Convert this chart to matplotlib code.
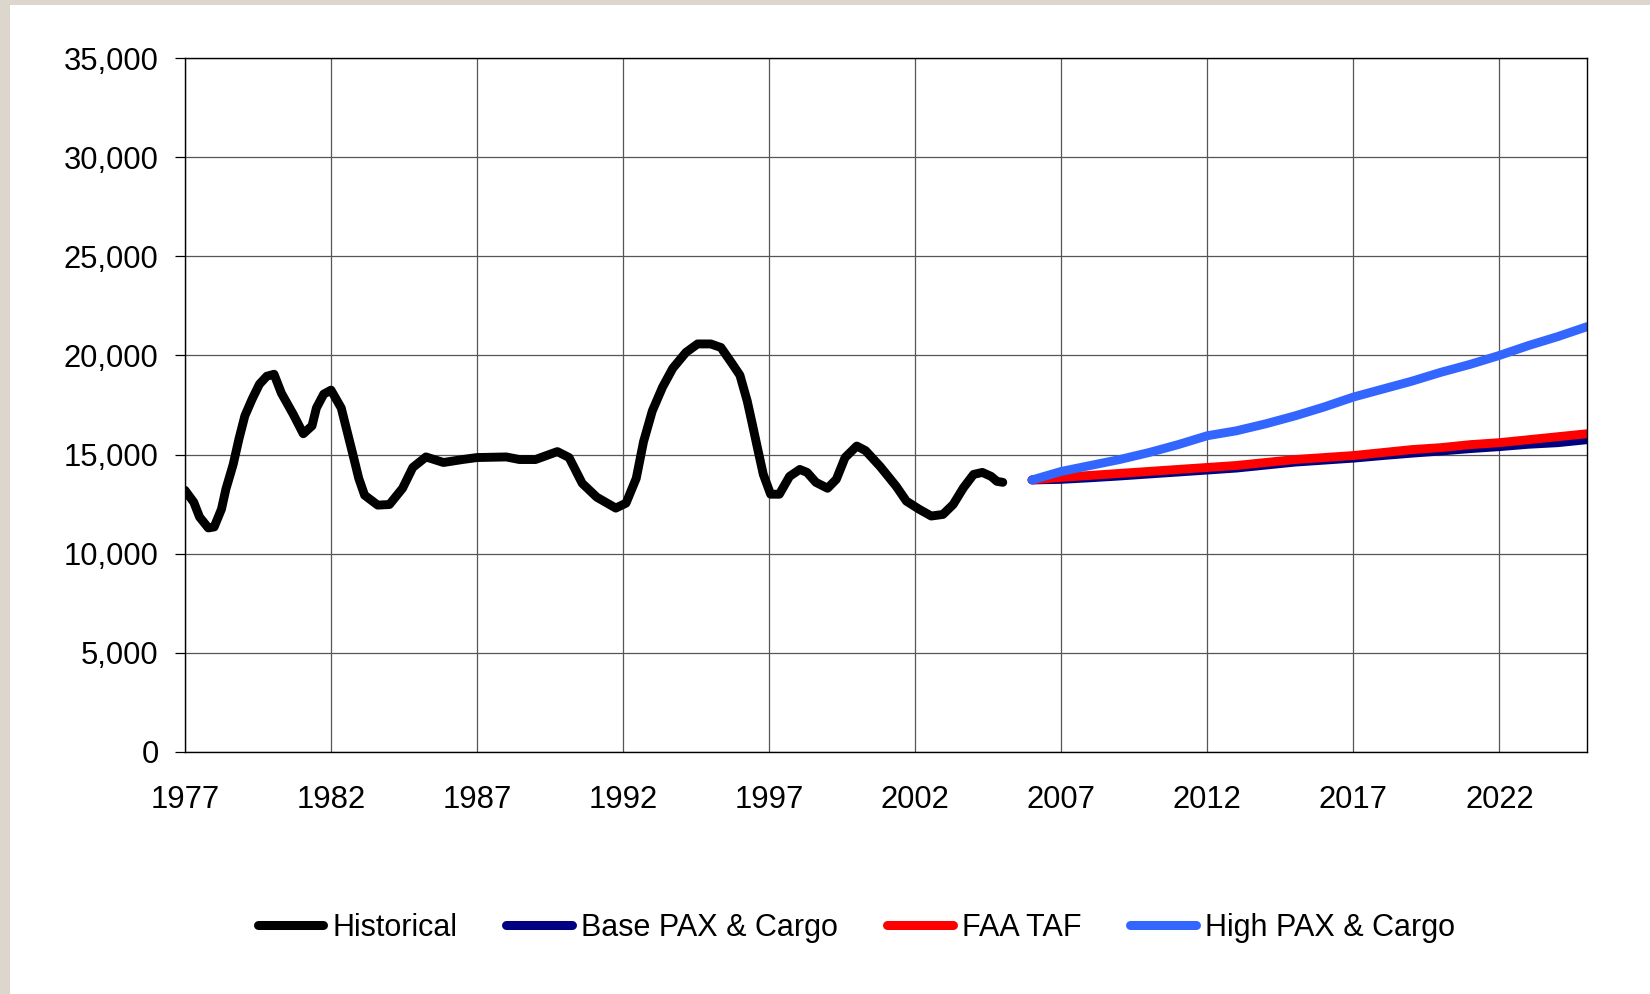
import numpy as np
import matplotlib.pyplot as plt
from matplotlib.patches import Rectangle

# historical series
hist_year = [1977.0, 1977.3, 1977.5, 1977.8, 1978.0, 1978.25, 1978.4, 1978.65, 1978.85,
             1979.05, 1979.3, 1979.55, 1979.8, 1980.05, 1980.3, 1980.7, 1981.05, 1981.35,
             1981.5, 1981.75, 1982.0, 1982.35, 1982.75, 1982.95, 1983.15, 1983.6, 1984.0,
             1984.45, 1984.8, 1985.25, 1985.85, 1986.5, 1987.0, 1988.0, 1988.45, 1989.0,
             1989.75, 1990.15, 1990.6, 1991.1, 1991.75, 1992.1, 1992.45, 1992.7, 1993.0,
             1993.35, 1993.7, 1994.15, 1994.55, 1995.0, 1995.35, 1995.75, 1996.0, 1996.25,
             1996.4, 1996.65, 1996.8, 1997.05, 1997.35, 1997.7, 1998.05, 1998.3, 1998.6,
             1999.0, 1999.3, 1999.6, 2000.0, 2000.3, 2000.8, 2001.35, 2001.7, 2002.15,
             2002.55, 2002.95, 2003.3, 2003.65, 2004.0, 2004.3, 2004.6, 2004.8, 2005.0]
hist_val = [13200, 12600, 11850, 11300, 11350, 12250, 13250, 14500, 15800,
            16950, 17800, 18550, 18950, 19050, 18100, 17050, 16050, 16450,
            17350, 18050, 18250, 17350, 15000, 13800, 12950, 12450, 12480,
            13300, 14350, 14880, 14600, 14750, 14850, 14880, 14750, 14750,
            15150, 14850, 13550, 12850, 12300, 12550, 13800, 15650, 17200,
            18400, 19350, 20150, 20580, 20580, 20400, 19550, 19000, 17700,
            16700, 15000, 14000, 13000, 13000, 13900, 14250, 14100, 13600,
            13300, 13750, 14850, 15430, 15200, 14400, 13400, 12650, 12230,
            11900, 11980, 12480, 13320, 14000, 14100, 13900, 13650, 13600]

# forecasts
fc_year = list(range(2006, 2026))
base = [13720, 13750, 13830, 13920, 14020, 14120, 14220, 14320, 14470, 14620,
        14720, 14820, 14950, 15070, 15180, 15300, 15400, 15520, 15600, 15750]
faa_taf = [13720, 13850, 13950, 14050, 14150, 14250, 14350, 14450, 14600, 14750,
           14850, 14950, 15100, 15250, 15350, 15500, 15600, 15750, 15900, 16050]
high = [13720, 14150, 14450, 14750, 15100, 15500, 15950, 16200, 16550, 16950,
        17400, 17900, 18300, 18700, 19150, 19550, 20000, 20500, 20950, 21450]

xticks = list(range(1977, 2026, 5))
yticks = list(range(0, 35001, 5000))

plt.rcParams['font.family'] = ['Liberation Sans', 'DejaVu Sans']

fig = plt.figure(figsize=(16.5, 9.94), dpi=100, facecolor='#dcd6cc')
# white panel over the textured border
fig.patches.append(Rectangle((10 / 1650, 0), 1, 1 - 5 / 994, transform=fig.transFigure,
                             facecolor='white', edgecolor='none', zorder=-5))

ax = fig.add_axes([0.1121, 0.2435, 0.9618 - 0.1121, 0.9416 - 0.2435])
ax.set_facecolor('white')

lw = 6.4
ax.plot(hist_year, hist_val, color='black', lw=lw, solid_capstyle='round',
        solid_joinstyle='round', label='Historical')
ax.plot(fc_year, base, color='#000080', lw=lw, solid_capstyle='round',
        solid_joinstyle='round', label='Base PAX & Cargo')
ax.plot(fc_year, faa_taf, color='#ff0000', lw=lw, solid_capstyle='round',
        solid_joinstyle='round', label='FAA TAF')
ax.plot(fc_year, high, color='#3366ff', lw=lw, solid_capstyle='round',
        solid_joinstyle='round', label='High PAX & Cargo')

ax.set_xlim(1977, 2025)
ax.set_ylim(0, 35000)
ax.set_xticks(xticks)
ax.set_yticks(yticks)
ax.set_yticklabels([f'{v:,}' for v in yticks])
ax.grid(True, color='#555555', lw=0.9)
ax.set_axisbelow(True)
ax.tick_params(axis='y', length=7, width=0.9, pad=12, labelsize=22.3, direction='out')
ax.tick_params(axis='x', length=0, pad=24, labelsize=22.3)
for s in ax.spines.values():
    s.set_color('black')
    s.set_linewidth(1)

leg = fig.legend(loc='center', bbox_to_anchor=(0.519, 1 - 928 / 994), ncol=4,
                 frameon=False, handlelength=2.15, handletextpad=0.3,
                 columnspacing=1.6, prop={'size': 22})
for h in leg.get_lines():
    h.set_linewidth(6.5)

fig.savefig('out.png', dpi=100, facecolor=fig.get_facecolor())
